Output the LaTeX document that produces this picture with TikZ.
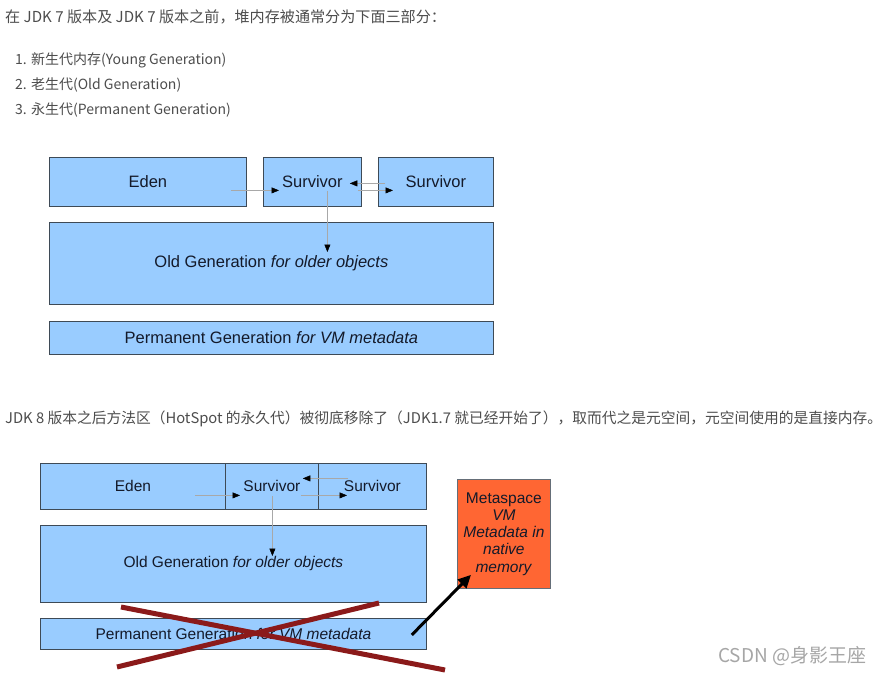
\documentclass[tikz,border=0pt]{standalone}
\usepackage{fontspec}
\setmainfont{Liberation Sans}
\newfontfamily\cjk{Noto Sans CJK SC}
\usetikzlibrary{arrows.meta}
\definecolor{boxblue}{HTML}{99CCFF}
\definecolor{boxline}{HTML}{3E4A56}
\definecolor{diagtext}{HTML}{141A2A}
\definecolor{bodytext}{HTML}{4D4D4D}
\definecolor{metafill}{HTML}{FF6633}
\definecolor{crossred}{HTML}{8B1A1A}
\definecolor{flowgray}{HTML}{A8A8A8}
\definecolor{wmgray}{HTML}{A6A6A6}
\tikzset{
  box/.style={draw=boxline, fill=boxblue, line width=0.8pt, inner sep=0pt, text=diagtext, anchor=north west},
  bigf/.style={font=\fontsize{16.5}{19}\selectfont},
  smallf/.style={font=\fontsize{15.5}{17.3}\selectfont},
  flow/.style={draw=flowgray, line width=0.5pt, -{Triangle[length=7.5pt,width=6pt,fill=black,color=black]}},
  bodyline/.style={anchor=west, inner sep=0pt, text=bodytext, font=\cjk\fontsize{14}{16}\selectfont},
  crossline/.style={draw=crossred, line width=5pt},
}
\begin{document}
\begin{tikzpicture}[x=1pt,y=-1pt]
\useasboundingbox[fill=white] (0,0) rectangle (883,674);

% body text
\node[bodyline, font=\cjk\fontsize{15.1}{17}\selectfont] (t1) at (5,17) {在 JDK 7 版本及 JDK 7 版本之前，堆内存被通常分为下面三部分：};
\node[bodyline] (l1) at (15,60) {1. 新生代内存(Young Generation)};
\node[bodyline] (l2) at (15,85) {2. 老生代(Old Generation)};
\node[bodyline] (l3) at (15,110) {3. 永生代(Permanent Generation)};
\node[bodyline, font=\cjk\fontsize{14.75}{17}\selectfont] (t2) at (5,419) {JDK 8 版本之后方法区（HotSpot 的永久代）被彻底移除了（JDK1.7 就已经开始了），取而代之是元空间，元空间使用的是直接内存。};

% top diagram
\node[box, bigf, minimum width=197pt, minimum height=49pt] (edent) at (49,157) {Eden};
\node[box, bigf, minimum width=98pt, minimum height=49pt] (s1t) at (263,157) {Survivor};
\node[box, bigf, minimum width=115pt, minimum height=49pt] (s2t) at (378,157) {Survivor};
\node[box, bigf, minimum width=444pt, minimum height=82pt] (oldt) at (49,222) {Old Generation \textit{for older objects}};
\node[box, bigf, minimum width=444pt, minimum height=33pt] (permt) at (49,321) {Permanent Generation \textit{for VM metadata}};

\draw[flow] ([shift={(-16,8.5)}]edent.east) -- ([shift={(16,8.5)}]s1t.west);
\draw[flow] ([shift={(7,1.5)}]s2t.west) -- ([shift={(-12,1.5)}]s1t.east);
\draw[flow] ([shift={(-4,8.5)}]s1t.east) -- ([shift={(15,8.5)}]s2t.west);
\draw[flow] ([shift={(15,-16)}]s1t.south) -- ([shift={(56,30)}]oldt.north);

% bottom diagram
\node[box, smallf, minimum width=185pt, minimum height=46pt] (edenb) at (40,463) {Eden};
\node[box, smallf, minimum width=93pt, minimum height=46pt] (s1b) at (225,463) {Survivor};
\node[box, smallf, minimum width=108pt, minimum height=46pt] (s2b) at (318,463) {Survivor};
\node[box, smallf, minimum width=386pt, minimum height=77pt] (oldb) at (40,525) {Old Generation \textit{for older objects}};
\node[box, smallf, minimum width=386pt, minimum height=31pt] (permb) at (40,618) {Permanent Generation \textit{for VM metadata}};
\node[box, smallf, fill=metafill, draw=boxline!80, minimum width=93pt, minimum height=109pt, align=center] (meta) at (457,479)
  {Metaspace\\\textit{VM}\\\textit{Metadata in}\\\textit{native}\\\textit{memory}};

\draw[flow] ([shift={(-31,9)}]edenb.east) -- ([shift={(15,9)}]s1b.west);
\draw[flow] ([shift={(30,-8)}]s2b.west) -- ([shift={(-16,-8)}]s1b.east);
\draw[flow] ([shift={(-18,9)}]s1b.east) -- ([shift={(29,9)}]s2b.west);
\draw[flow] ([shift={(0.5,-14)}]s1b.south) -- ([shift={(39,31)}]oldb.north);

% cross over permanent generation
\draw[crossline] (117,667) -- (379,603);
\draw[crossline] (121,607) -- (445,670);

% arrow to metaspace
\draw[line width=3pt, -{Triangle[length=13pt,width=12pt]}] ([shift={(-15,1)}]permb.east) -- ([shift={(14,-14)}]meta.south west);

% watermark
\node[anchor=west, inner sep=0pt, text=wmgray, font=\cjk\fontsize{19}{21}\selectfont] (wm) at (718,656) {CSDN @身影王座};
\end{tikzpicture}
\end{document}
